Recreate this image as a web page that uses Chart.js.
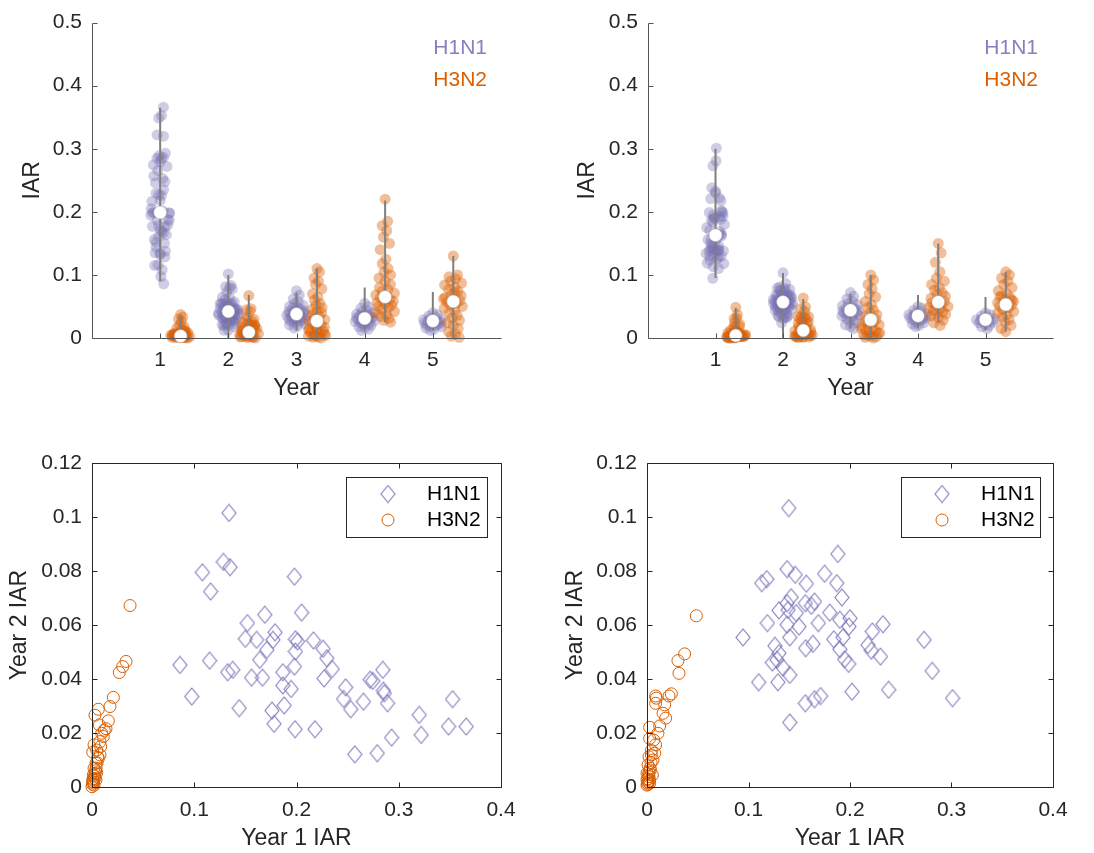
<!DOCTYPE html>
<html lang="en">
<head>
<meta charset="UTF-8" />
<title>IAR by year, H1N1 and H3N2</title>
<style>
  body { margin: 0; background: #fff; }
  canvas { position: absolute; }
</style>
</head>
<body>
<canvas id="violinLeft" width="547" height="426" style="left:0;top:0"></canvas>
<canvas id="violinRight" width="547" height="426" style="left:547px;top:0"></canvas>
<canvas id="scatterLeft" width="547" height="427" style="left:0;top:426px"></canvas>
<canvas id="scatterRight" width="547" height="427" style="left:547px;top:426px"></canvas>

<script src="https://cdn.jsdelivr.net/npm/chart.js"></script>
<script>
// ---- tick labels ----
const yearTicks = [1, 2, 3, 4, 5];
const iarTicks = [0, 0.1, 0.2, 0.3, 0.4, 0.5];
const year1Ticks = [0, 0.1, 0.2, 0.3, 0.4];
const year2Ticks = [0, 0.02, 0.04, 0.06, 0.08, 0.1, 0.12];

// ---- left set: year 1 / year 2 pairs (same samples as the bottom scatter) ----
const h1n1Year1L = [0.134,0.1285,0.135,0.108,0.116,0.198,0.205,0.169,0.152,0.150,0.161,0.179,0.177,0.171,0.164,0.199,0.201,0.199,0.198,0.2166,0.226,0.2296,0.235,0.227,0.086,0.115,0.1327,0.1376,0.156,0.1667,0.1866,0.1866,0.1947,0.0975,0.144,0.176,0.178,0.188,0.1986,0.218,0.248,0.246,0.253,0.2655,0.272,0.2746,0.2844,0.285,0.286,0.289,0.293,0.257,0.279,0.32,0.322,0.3526,0.3487,0.366];
const h1n1Year2L = [0.1015,0.0834,0.0814,0.0795,0.0724,0.0779,0.0646,0.0638,0.0607,0.0549,0.0545,0.0573,0.0545,0.0508,0.0471,0.0547,0.0539,0.0502,0.0446,0.0543,0.0512,0.0477,0.0437,0.0402,0.0452,0.0468,0.0425,0.0434,0.0405,0.0405,0.0425,0.0376,0.0363,0.0335,0.0292,0.0283,0.0234,0.0302,0.0214,0.0214,0.0369,0.0326,0.0288,0.0316,0.0397,0.0393,0.0434,0.0357,0.0347,0.031,0.0183,0.0121,0.0125,0.0267,0.0193,0.0325,0.0224,0.0224];
const h3n2Year1L = [0.0372,0.0333,0.030,0.0267,0.0209,0.0176,0.016,0.0137,0.0062,0.0029,0.0072,0.0095,0.0078,0.002,0.0046,0.0007,0.0062,0.0039,0.002,0.0046,0.0013,0.0029,0.0007,0.002,0.0,0.0039,0.0078,0.011,0.005,0.003,0.001,0.0085,0.0015,0.0025,0.004,0.0005,0.0035,0.012,0.0055,0.001];
const h3n2Year2L = [0.0672,0.0465,0.0446,0.0424,0.0332,0.0298,0.0245,0.0216,0.0288,0.0266,0.023,0.0199,0.0168,0.0156,0.0137,0.0129,0.0106,0.0088,0.0069,0.0053,0.0044,0.0032,0.002,0.0007,0.0001,0.0026,0.0119,0.0187,0.009,0.005,0.003,0.015,0.0015,0.004,0.007,0.001,0.006,0.021,0.011,0.0025];
const h1n1Year3L = [0.075,0.068,0.062,0.058,0.055,0.052,0.05,0.048,0.047,0.045,0.044,0.043,0.042,0.041,0.04,0.039,0.038,0.038,0.037,0.036,0.035,0.034,0.033,0.032,0.031,0.03,0.029,0.028,0.027,0.026,0.025,0.023,0.021,0.019,0.016];
const h3n2Year3L = [0.11,0.105,0.095,0.09,0.085,0.078,0.07,0.065,0.06,0.055,0.052,0.048,0.045,0.042,0.04,0.037,0.034,0.031,0.029,0.027,0.025,0.023,0.021,0.019,0.017,0.015,0.013,0.011,0.009,0.007,0.005,0.004,0.003,0.002,0.001,0.0,0.003,0.006,0.012,0.016];
const h1n1Year4L = [0.055,0.05,0.047,0.044,0.042,0.04,0.038,0.037,0.036,0.035,0.034,0.033,0.032,0.031,0.031,0.03,0.029,0.028,0.027,0.026,0.025,0.024,0.023,0.022,0.02,0.018,0.016,0.014,0.012];
const h3n2Year4L = [0.22,0.185,0.178,0.17,0.16,0.15,0.14,0.125,0.118,0.11,0.105,0.1,0.095,0.09,0.085,0.08,0.077,0.074,0.071,0.068,0.066,0.064,0.062,0.06,0.058,0.056,0.054,0.052,0.05,0.048,0.045,0.042,0.04,0.037,0.034,0.031,0.028,0.025];
const h1n1Year5L = [0.04,0.037,0.035,0.033,0.031,0.03,0.029,0.028,0.027,0.026,0.026,0.025,0.024,0.023,0.022,0.021,0.02,0.019,0.018,0.016,0.014,0.012];
const h3n2Year5L = [0.13,0.1,0.097,0.094,0.09,0.087,0.084,0.08,0.077,0.074,0.07,0.067,0.064,0.061,0.059,0.057,0.055,0.053,0.05,0.047,0.044,0.04,0.036,0.032,0.028,0.024,0.02,0.015,0.01,0.006,0.003,0.001,0.062,0.072];
const h1n1MedianL = [0.199, 0.042, 0.038, 0.031, 0.027];
const h3n2MedianL = [0.003, 0.009, 0.027, 0.065, 0.058];
const h1n1WhiskerLoL = [0.09, 0.0, 0.012, 0.012, 0.012];
const h1n1WhiskerHiL = [0.365, 0.10, 0.072, 0.08, 0.073];
const h3n2WhiskerLoL = [0.0, 0.0, 0.0, 0.025, 0.0];
const h3n2WhiskerHiL = [0.037, 0.068, 0.11, 0.218, 0.13];

// ---- right set ----
const h1n1Year1R = [0.1396,0.188,0.138,0.146,0.113,0.118,0.175,0.157,0.187,0.192,0.142,0.138,0.156,0.165,0.162,0.130,0.139,0.147,0.18,0.1186,0.138,0.1498,0.1688,0.19,0.2,0.199,0.2325,0.222,0.0946,0.1406,0.184,0.193,0.273,0.126,0.1563,0.1635,0.19,0.2177,0.221,0.23,0.130,0.1235,0.128,0.1947,0.1987,0.134,0.281,0.1406,0.110,0.129,0.202,0.238,0.156,0.165,0.171,0.301,0.1406];
const h1n1Year2R = [0.1033,0.0863,0.0807,0.0786,0.0755,0.077,0.079,0.0753,0.0755,0.0702,0.0703,0.0681,0.0681,0.0687,0.0671,0.0654,0.0656,0.0644,0.0646,0.0607,0.0601,0.0594,0.0607,0.0619,0.0625,0.0594,0.0603,0.0576,0.0554,0.0554,0.0547,0.0554,0.0545,0.0523,0.0514,0.053,0.051,0.0526,0.0505,0.0483,0.0496,0.0461,0.0471,0.0473,0.0456,0.0442,0.043,0.0415,0.0388,0.0388,0.0353,0.036,0.031,0.0325,0.0337,0.0329,0.0239];
const h3n2Year1R = [0.0486,0.0371,0.0305,0.0315,0.024,0.0217,0.0085,0.0092,0.0174,0.0085,0.0158,0.0184,0.0125,0.0108,0.0026,0.0066,0.0085,0.0026,0.0043,0.002,0.0059,0.001,0.0033,0,0.002,0,0.0013,0.0026,0,0.0043,0.0076,0.0053,0.001,0.002,0.0005,0.003,0.0015,0.004,0.0025,0.001];
const h3n2Year2R = [0.0634,0.0493,0.0468,0.0421,0.0345,0.0337,0.0337,0.0329,0.0304,0.031,0.0273,0.0255,0.0226,0.0199,0.0221,0.0174,0.0156,0.018,0.0135,0.0112,0.01,0.0082,0.0063,0.0051,0.0038,0.0028,0.002,0.0014,0.0007,0.0119,0.0125,0.0044,0.003,0.0055,0.0015,0.007,0.0045,0.009,0.0025,0.001];
const h1n1Year3R = [0.072,0.066,0.062,0.058,0.055,0.053,0.051,0.049,0.047,0.046,0.045,0.044,0.043,0.042,0.041,0.04,0.039,0.038,0.036,0.035,0.033,0.031,0.029,0.027,0.024,0.021,0.018,0.015];
const h3n2Year3R = [0.1,0.092,0.085,0.078,0.07,0.065,0.058,0.053,0.048,0.044,0.04,0.037,0.034,0.031,0.029,0.027,0.025,0.023,0.021,0.019,0.016,0.013,0.011,0.009,0.007,0.005,0.003,0.002,0.001,0.0,0.004,0.008,0.015];
const h1n1Year4R = [0.05,0.047,0.044,0.042,0.04,0.038,0.037,0.036,0.035,0.034,0.034,0.033,0.032,0.031,0.03,0.029,0.028,0.026,0.024,0.022,0.02,0.018];
const h3n2Year4R = [0.15,0.135,0.12,0.105,0.095,0.09,0.085,0.08,0.076,0.072,0.069,0.066,0.063,0.06,0.058,0.056,0.054,0.052,0.05,0.048,0.046,0.044,0.042,0.04,0.038,0.035,0.032,0.028,0.024,0.02];
const h1n1Year5R = [0.04,0.037,0.035,0.033,0.031,0.03,0.029,0.028,0.028,0.027,0.026,0.025,0.024,0.022,0.02,0.018,0.015];
const h3n2Year5R = [0.105,0.1,0.095,0.09,0.085,0.08,0.075,0.07,0.067,0.064,0.061,0.058,0.056,0.054,0.052,0.05,0.048,0.045,0.042,0.04,0.037,0.033,0.029,0.025,0.02,0.015,0.01,0.06,0.065];
const h1n1MedianR = [0.163, 0.057, 0.044, 0.035, 0.029];
const h3n2MedianR = [0.004, 0.012, 0.029, 0.057, 0.053];
const h1n1WhiskerLoR = [0.095, 0.0, 0.015, 0.015, 0.012];
const h1n1WhiskerHiR = [0.30, 0.103, 0.07, 0.068, 0.065];
const h3n2WhiskerLoR = [0.0, 0.0, 0.0, 0.025, 0.01];
const h3n2WhiskerHiR = [0.048, 0.062, 0.1, 0.15, 0.105];

// ---- look ----
const purple = '#7570b3';
const orange = '#d95f02';
const ink = '#262626';
const tickFont = { family: 'Liberation Sans', size: 21 };
const titleFont = { family: 'Liberation Sans', size: 23 };
const h3n2Shift = 0.3;

// horizontal spread of violin points, wider where values are dense
function spread(values, center) {
  const lo = Math.min(...values), hi = Math.max(...values);
  const bw = Math.max((hi - lo) / 8, 0.004);
  const dens = values.map(v => values.filter(w => Math.abs(w - v) < bw).length);
  const dmax = Math.max(...dens);
  const pattern = [0, 0.6, -0.6, 0.3, -0.3, 0.9, -0.9, 0.15, -0.45, 0.45, -0.15, 0.75, -0.75];
  return values.map((v, i) => ({
    x: center + 0.16 * Math.sqrt(dens[i] / dmax) * pattern[i % pattern.length],
    y: v,
  }));
}

function violinPoints(groups, shift) {
  let pts = [];
  groups.forEach((vals, i) => { pts = pts.concat(spread(vals, yearTicks[i] + shift)); });
  return pts;
}

function whiskers(lo, hi, shift) {
  const pts = [];
  lo.forEach((v, i) => {
    const x = yearTicks[i] + shift;
    pts.push({ x: x, y: v }, { x: x, y: hi[i] }, { x: x, y: null });
  });
  return pts;
}

function medians(vals, shift) {
  return vals.map((v, i) => ({ x: yearTicks[i] + shift, y: v }));
}

function pairs(xs, ys) {
  return xs.map((v, i) => ({ x: v, y: ys[i] }));
}

function diamondImage(w, h, color) {
  const c = document.createElement('canvas');
  c.width = w + 2; c.height = h + 2;
  const g = c.getContext('2d');
  g.strokeStyle = color; g.lineWidth = 1.1;
  g.beginPath();
  g.moveTo(c.width / 2, 1); g.lineTo(c.width - 1, c.height / 2);
  g.lineTo(c.width / 2, c.height - 1); g.lineTo(1, c.height / 2);
  g.closePath(); g.stroke();
  return c;
}
const diamond = diamondImage(14, 17, '#7c78bb');

// axes with inward ticks, plus the legends
const frame = {
  id: 'frame',
  afterDraw(chart, args, opts) {
    const { ctx, chartArea: a } = chart;
    const xs = chart.scales.x, ys = chart.scales.y;
    const L = Math.round(a.left) + 0.5, R = Math.round(a.right) + 0.5;
    const T = Math.round(a.top) + 0.5, B = Math.round(a.bottom) + 0.5;
    ctx.save();
    ctx.strokeStyle = opts.axisColor; ctx.lineWidth = 1;
    ctx.beginPath();
    ctx.moveTo(L, T); ctx.lineTo(L, B); ctx.lineTo(R, B);
    if (opts.box) { ctx.lineTo(R, T); ctx.lineTo(L, T); }
    xs.ticks.forEach(t => {
      const p = Math.round(xs.getPixelForValue(t.value)) + 0.5;
      ctx.moveTo(p, B); ctx.lineTo(p, B - 5);
      if (opts.box) { ctx.moveTo(p, T); ctx.lineTo(p, T + 5); }
    });
    ys.ticks.forEach(t => {
      const p = Math.round(ys.getPixelForValue(t.value)) + 0.5;
      ctx.moveTo(L, p); ctx.lineTo(L + 5, p);
      if (opts.box) { ctx.moveTo(R, p); ctx.lineTo(R - 5, p); }
    });
    ctx.stroke();

    ctx.font = '21px "Liberation Sans"';
    ctx.textBaseline = 'middle';
    if (opts.textLegend) {
      const lg = opts.textLegend;
      ctx.textAlign = 'right';
      ctx.fillStyle = '#8480c1';
      ctx.fillText('H1N1', lg.right, 48);
      ctx.fillStyle = orange;
      ctx.fillText('H3N2', lg.right, 80);
    }
    if (opts.boxLegend) {
      const lg = opts.boxLegend;
      ctx.fillStyle = '#fff';
      ctx.fillRect(lg.left, lg.top, lg.width, 60);
      ctx.strokeStyle = ink;
      ctx.strokeRect(Math.round(lg.left) + 0.5, Math.round(lg.top) + 0.5, lg.width, 60);
      ctx.drawImage(diamond, lg.marker - diamond.width / 2, lg.top + 17 - diamond.height / 2);
      ctx.strokeStyle = orange;
      ctx.beginPath();
      ctx.arc(lg.marker, lg.top + 43, 6, 0, Math.PI * 2);
      ctx.stroke();
      ctx.textAlign = 'left';
      ctx.fillStyle = '#000';
      ctx.fillText('H1N1', lg.text, lg.top + 17);
      ctx.fillText('H3N2', lg.text, lg.top + 43);
    }
    ctx.restore();
  },
};

function fixedTicks(list) {
  return scale => { scale.ticks = list.map(v => ({ value: v })); };
}

function makeChart(id, datasets, area, xCfg, yCfg, frameOpts) {
  const canvas = document.getElementById(id);
  const H = canvas.height, W = canvas.width;
  return new Chart(canvas, {
    type: 'scatter',
    data: { datasets: datasets },
    options: {
      responsive: false,
      animation: false,
      events: [],
      layout: { padding: { top: area.top, right: W - area.right, left: 0, bottom: 0 } },
      plugins: { legend: { display: false }, tooltip: { enabled: false }, frame: frameOpts },
      scales: {
        x: {
          type: 'linear', min: xCfg.min, max: xCfg.max,
          afterBuildTicks: fixedTicks(xCfg.ticks),
          afterFit: s => { s.height = H - area.bottom; },
          grid: { display: false, drawTicks: false },
          border: { display: false },
          ticks: { padding: xCfg.pad, font: tickFont, color: ink, maxRotation: 0, callback: v => String(v) },
          title: { display: true, text: xCfg.title, font: titleFont, color: ink, padding: { top: 0, bottom: xCfg.titlePad } },
        },
        y: {
          type: 'linear', min: yCfg.min, max: yCfg.max,
          afterBuildTicks: fixedTicks(yCfg.ticks),
          afterFit: s => { s.width = area.left; },
          grid: { display: false, drawTicks: false },
          border: { display: false },
          ticks: { padding: 10, font: tickFont, color: ink, callback: v => String(v) },
          title: { display: true, text: yCfg.title, font: titleFont, color: ink, padding: { top: yCfg.titlePad, bottom: 0 } },
        },
      },
    },
    plugins: [frame],
  });
}

function violinSets(h1Groups, h3Groups, h1Med, h3Med, h1Lo, h1Hi, h3Lo, h3Hi) {
  const medStyle = {
    pointRadius: 6.5, pointBackgroundColor: '#fff', pointBorderColor: 'rgba(150,150,150,0.7)',
    pointBorderWidth: 0.8, clip: false,
  };
  const whiskerStyle = {
    type: 'line', showLine: true, spanGaps: false, pointRadius: 0,
    borderColor: '#7f7f7f', borderWidth: 2, fill: false, clip: false,
  };
  return [
    Object.assign({ label: 'H1N1 median', data: medians(h1Med, 0) }, medStyle),
    Object.assign({ label: 'H3N2 median', data: medians(h3Med, h3n2Shift) }, medStyle),
    Object.assign({ label: 'H1N1 range', data: whiskers(h1Lo, h1Hi, 0) }, whiskerStyle),
    Object.assign({ label: 'H3N2 range', data: whiskers(h3Lo, h3Hi, h3n2Shift) }, whiskerStyle),
    {
      label: 'H3N2', data: violinPoints(h3Groups, h3n2Shift), clip: false,
      pointRadius: 5.5, pointBorderWidth: 0, pointBackgroundColor: 'rgba(217,95,2,0.4)',
    },
    {
      label: 'H1N1', data: violinPoints(h1Groups, 0), clip: false,
      pointRadius: 5.5, pointBorderWidth: 0, pointBackgroundColor: 'rgba(117,112,179,0.35)',
    },
  ];
}

function scatterSets(h1x, h1y, h3x, h3y) {
  return [
    {
      label: 'H1N1', data: pairs(h1x, h1y), pointStyle: diamond, pointRadius: 8, clip: false,
    },
    {
      label: 'H3N2', data: pairs(h3x, h3y), pointRadius: 6, pointBorderWidth: 1,
      pointBorderColor: orange, pointBackgroundColor: 'rgba(0,0,0,0)', clip: false,
    },
  ];
}

const yearAxis = { min: 0, max: 6, ticks: yearTicks, title: 'Year', pad: 10, titlePad: 24 };
const iarAxis = { min: 0, max: 0.5, ticks: iarTicks, title: 'IAR' };
const y1Axis = { min: 0, max: 0.4, ticks: year1Ticks, title: 'Year 1 IAR', pad: 11, titlePad: 1 };
const y2Axis = { min: 0, max: 0.12, ticks: year2Ticks, title: 'Year 2 IAR' };

makeChart('violinLeft',
  violinSets([h1n1Year1L, h1n1Year2L, h1n1Year3L, h1n1Year4L, h1n1Year5L],
             [h3n2Year1L, h3n2Year2L, h3n2Year3L, h3n2Year4L, h3n2Year5L],
             h1n1MedianL, h3n2MedianL, h1n1WhiskerLoL, h1n1WhiskerHiL, h3n2WhiskerLoL, h3n2WhiskerHiL),
  { left: 92, right: 501, top: 14, bottom: 338 },
  yearAxis, Object.assign({ titlePad: 19 }, iarAxis),
  { axisColor: '#555', box: false, textLegend: { right: 487 } });

makeChart('violinRight',
  violinSets([h1n1Year1R, h1n1Year2R, h1n1Year3R, h1n1Year4R, h1n1Year5R],
             [h3n2Year1R, h3n2Year2R, h3n2Year3R, h3n2Year4R, h3n2Year5R],
             h1n1MedianR, h3n2MedianR, h1n1WhiskerLoR, h1n1WhiskerHiR, h3n2WhiskerLoR, h3n2WhiskerHiR),
  { left: 101, right: 506, top: 14, bottom: 338 },
  yearAxis, Object.assign({ titlePad: 27 }, iarAxis),
  { axisColor: '#555', box: false, textLegend: { right: 491 } });

makeChart('scatterLeft',
  scatterSets(h1n1Year1L, h1n1Year2L, h3n2Year1L, h3n2Year2L),
  { left: 92, right: 501, top: 37, bottom: 361 },
  y1Axis, Object.assign({ titlePad: 6 }, y2Axis),
  { axisColor: ink, box: true, boxLegend: { left: 346, top: 51, width: 141, marker: 388, text: 427 } });

makeChart('scatterRight',
  scatterSets(h1n1Year1R, h1n1Year2R, h3n2Year1R, h3n2Year2R),
  { left: 100, right: 506, top: 37, bottom: 361 },
  y1Axis, Object.assign({ titlePad: 15 }, y2Axis),
  { axisColor: ink, box: true, boxLegend: { left: 354, top: 51, width: 139, marker: 395, text: 434 } });
</script>
</body>
</html>
